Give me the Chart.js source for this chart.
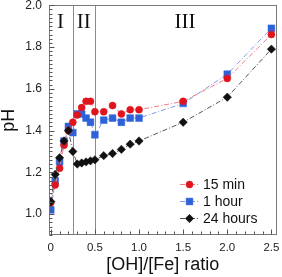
<!DOCTYPE html>
<html><head><meta charset="utf-8">
<script src="https://cdn.jsdelivr.net/npm/chart.js@4/dist/chart.umd.min.js"></script>
<style>html,body{margin:0;padding:0;background:#fff}canvas{display:block}</style>
</head><body>
<canvas id="c" width="282" height="277"></canvas>
<script>
const ratios = [0, 0.05, 0.1, 0.15, 0.2, 0.25, 0.3, 0.35, 0.4, 0.45, 0.5, 0.6, 0.7, 0.8, 0.9, 1.0, 1.5, 2.0, 2.5];
const pH15min = [1.055, 1.14, 1.22, 1.33, 1.40, 1.44, 1.475, 1.51, 1.54, 1.54, 1.49, 1.49, 1.52, 1.48, 1.50, 1.50, 1.54, 1.65, 1.86];
const pH1hour = [1.02, 1.16, 1.25, 1.35, 1.42, 1.39, 1.48, 1.48, 1.46, 1.44, 1.38, 1.45, 1.46, 1.44, 1.46, 1.46, 1.53, 1.67, 1.89];
const pH24hours = [1.06, 1.19, 1.27, 1.35, 1.40, 1.30, 1.24, 1.245, 1.25, 1.255, 1.26, 1.28, 1.29, 1.31, 1.335, 1.35, 1.44, 1.56, 1.79];
const seriesNames = ["15 min", "1 hour", "24 hours"];
const xTickLabels = ["0", "0.5", "1.0", "1.5", "2.0", "2.5"];
const xTickValues = [0, 0.5, 1.0, 1.5, 2.0, 2.5];
const yTickValues = [1.0, 1.2, 1.4, 1.6, 1.8, 2.0];
const regionBounds = [0.25, 0.5];
const regionLabels = [["I", 0.11], ["II", 0.375], ["III", 1.52]];

const toPts = (ys) => ratios.map((x, i) => ({x, y: ys[i]}));
const dash = [5, 2, 1, 2];

const styles = [
  {line: '#f07a80', fill: '#e0141c', ps: 'circle', r: 3.5},
  {line: '#7e9ee6', fill: '#2f62d8', ps: 'rect', r: 4.8},
  {line: '#555555', fill: '#111111', ps: 'rectRot', r: 4.2}
];
const datas = [pH15min, pH1hour, pH24hours];

const datasets = datas.map((d, i) => ({
  label: seriesNames[i],
  data: toPts(d),
  borderColor: styles[i].line,
  borderWidth: 1,
  borderDash: dash,
  backgroundColor: styles[i].fill,
  pointBackgroundColor: styles[i].fill,
  pointBorderColor: styles[i].fill,
  pointBorderWidth: 0.5,
  pointStyle: styles[i].ps,
  pointRadius: styles[i].r,
  tension: 0,
  order: i === 2 ? 0 : (i === 0 ? 1 : 2)
}));

const decor = {
  id: 'decor',
  beforeDatasetsDraw(chart) {
    const {ctx, chartArea: a, scales: {x}} = chart;
    ctx.save();
    ctx.strokeStyle = '#8a8a8a';
    ctx.lineWidth = 1;
    regionBounds.forEach(v => {
      const px = Math.round(x.getPixelForValue(v)) + 0.5;
      ctx.beginPath(); ctx.moveTo(px, a.top); ctx.lineTo(px, a.bottom); ctx.stroke();
    });
    ctx.restore();
  },
  afterDatasetsDraw(chart) {
    const {ctx, chartArea: a, scales: {x, y}} = chart;
    ctx.save();
    ctx.strokeStyle = '#7a7a7a';
    ctx.lineWidth = 1;
    ctx.strokeRect(Math.round(a.left) + 0.5, Math.round(a.top) + 0.5, Math.round(a.right - a.left) - 1, Math.round(a.bottom - a.top) - 1);
    ctx.strokeStyle = '#555';
    const L = Math.round(a.left) + 0.5;
    for (let k = 45; k <= 100; k++) {
      const v = k * 0.02;
      const py = Math.round(y.getPixelForValue(v)) + 0.5;
      const major = (k % 10 === 0);
      ctx.beginPath(); ctx.moveTo(L, py); ctx.lineTo(L + (major ? 5 : 3), py); ctx.stroke();
    }
    const B = Math.round(a.bottom) - 0.5;
    for (let k = 0; k <= 25; k++) {
      const v = k * 0.1;
      const px = Math.round(x.getPixelForValue(v)) + 0.5;
      const major = (k % 5 === 0);
      ctx.beginPath(); ctx.moveTo(px, B); ctx.lineTo(px, B - (major ? 5 : 3)); ctx.stroke();
    }
    ctx.fillStyle = '#111';
    ctx.font = '21px "Liberation Serif", serif';
    ctx.textAlign = 'center';
    ctx.textBaseline = 'middle';
    regionLabels.forEach(([t, v]) => {
      ctx.fillText(t, x.getPixelForValue(v), a.top + 17);
    });
    ctx.font = '14px "Liberation Sans", Arial, sans-serif';
    ctx.textAlign = 'left';
    const lx = 180, ly = 184, gap = 17;
    chart.data.datasets.forEach((ds, i) => {
      const yy = ly + i * gap;
      ctx.save();
      ctx.strokeStyle = ds.borderColor; ctx.lineWidth = 1; ctx.setLineDash(dash);
      ctx.beginPath(); ctx.moveTo(lx, yy + 0.5); ctx.lineTo(lx + 19, yy + 0.5); ctx.stroke();
      ctx.restore();
      ctx.save();
      ctx.fillStyle = ds.pointBackgroundColor; ctx.strokeStyle = ds.pointBorderColor; ctx.lineWidth = 0.5;
      Chart.helpers.drawPoint(ctx, {pointStyle: ds.pointStyle, radius: ds.pointRadius, borderWidth: 0.5}, lx + 9.5, yy + 0.5);
      ctx.restore();
      ctx.fillStyle = '#111';
      ctx.fillText(ds.label, lx + 23, yy + 1);
    });
    ctx.restore();
  }
};

new Chart(document.getElementById('c'), {
  type: 'line',
  data: {datasets},
  options: {
    responsive: false,
    devicePixelRatio: 1,
    animation: false,
    layout: {padding: {top: 5, right: 3, left: 0, bottom: 0}},
    plugins: {legend: {display: false}, tooltip: {enabled: false}},
    scales: {
      x: {
        type: 'linear', min: -0.02, max: 2.56,
        grid: {display: false, drawTicks: false},
        border: {display: false},
        afterBuildTicks(s) { s.ticks = xTickValues.map(v => ({value: v})); },
        afterFit(s) { s.height = 42; s.paddingLeft = 0; s.paddingRight = 0; },
        ticks: {
          padding: 6, color: '#222',
          font: {family: '"Liberation Sans", Arial, sans-serif', size: 11.5},
          callback: (v) => { const i = xTickValues.indexOf(v); return i >= 0 ? xTickLabels[i] : ''; }
        },
        title: {display: true, text: '[OH]/[Fe] ratio', color: '#111',
          font: {family: '"Liberation Sans", Arial, sans-serif', size: 18}, padding: {top: 0, bottom: 1}}
      },
      y: {
        type: 'linear', min: 0.9, max: 2.0,
        grid: {display: false, drawTicks: false},
        border: {display: false},
        afterBuildTicks(s) { s.ticks = yTickValues.map(v => ({value: v})); },
        afterFit(s) { s.width = 49; s.paddingTop = 0; s.paddingBottom = 0; },
        ticks: {
          padding: 7, color: '#222',
          font: {family: '"Liberation Sans", Arial, sans-serif', size: 12},
          callback: (v) => v.toFixed(1)
        },
        title: {display: true, text: 'pH', color: '#111',
          font: {family: '"Liberation Sans", Arial, sans-serif', size: 18, lineHeight: 1}, padding: {top: 0, bottom: 0}}
      }
    }
  },
  plugins: [decor]
});
</script>
</body></html>
